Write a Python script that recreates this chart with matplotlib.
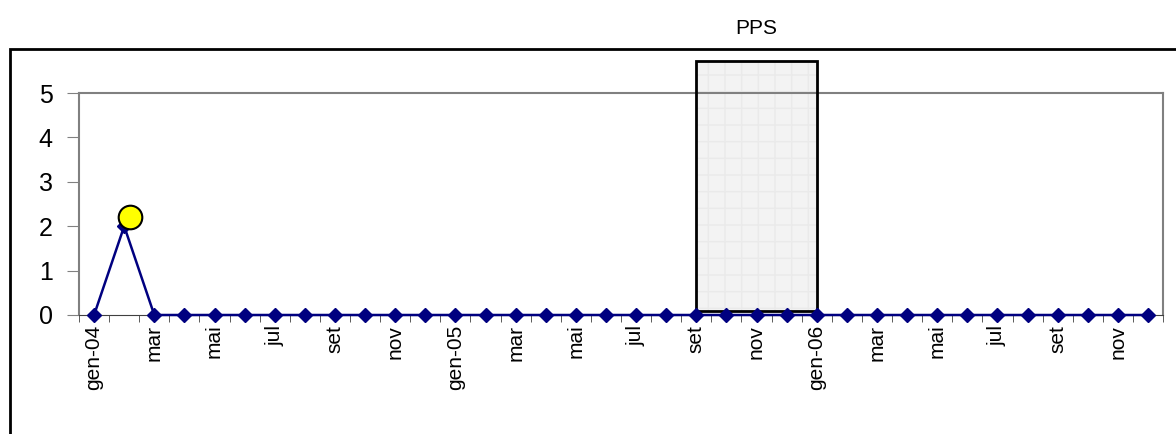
import matplotlib
matplotlib.use("Agg")
import matplotlib.pyplot as plt
from matplotlib.patches import Rectangle

plt.rcParams['font.family'] = ['Liberation Sans', 'DejaVu Sans']

# dati mensili gen-04 .. dic-06
valori = [0, 2] + [0] * 34
etichette = ["gen-04", "mar", "mai", "jul", "set", "nov",
             "gen-05", "mar", "mai", "jul", "set", "nov",
             "gen-06", "mar", "mai", "jul", "set", "nov"]
evidenza_x = [1.2]
evidenza_y = [2.2]
pps_inizio, pps_fine = 20, 24
pps_basso, pps_alto = 0.1, 5.73

fig = plt.figure(figsize=(11.76, 4.34), dpi=100)
ax = fig.add_axes([0.0672, 0.2742, 0.9218, 0.5115])

# cornice esterna
fig.patches.append(Rectangle((0.0085, -0.2), 1.2, 0.2 + 0.887, transform=fig.transFigure,
                             fill=False, edgecolor='black', lw=2, clip_on=False))

x = list(range(len(valori)))

# periodo PPS
ax.add_patch(Rectangle((pps_inizio, pps_basso), pps_fine - pps_inizio, pps_alto - pps_basso,
                       facecolor='#f3f3f3', edgecolor='#eaeaea', hatch='+', lw=0,
                       clip_on=False, zorder=1))
ax.add_patch(Rectangle((pps_inizio, pps_basso), pps_fine - pps_inizio, pps_alto - pps_basso,
                       fill=False, edgecolor='black', lw=2, clip_on=False, zorder=4))
ax.text((pps_inizio + pps_fine) / 2, 6.45, "PPS", ha='center', va='center', fontsize=15)

ax.plot(x, valori, color='#000080', marker='D', markersize=7, lw=1.8, zorder=5, clip_on=False)
ax.plot(evidenza_x, evidenza_y, 'o', markersize=17, markerfacecolor='#ffff00',
        markeredgecolor='black', markeredgewidth=1.5, zorder=6, clip_on=False)

ax.set_xlim(-0.5, len(valori) - 0.5)
ax.set_ylim(0, 5)
ax.set_yticks(range(6))
ax.set_xticks(x[::2])
ax.set_xticklabels(etichette, rotation=90)
ax.set_xticks([i - 0.5 for i in range(len(valori) + 1)], minor=True)
ax.tick_params(axis='x', which='major', length=0, pad=7, labelsize=15)
ax.tick_params(axis='x', which='minor', length=5, color='#404040', direction='out')
ax.tick_params(axis='y', length=9, color='#808080', labelsize=18, pad=10)

for lato in ['top', 'right', 'left']:
    ax.spines[lato].set_color('#808080')
    ax.spines[lato].set_linewidth(1.5)
ax.spines['bottom'].set_color('#404040')

plt.savefig("out.png", dpi=100)
